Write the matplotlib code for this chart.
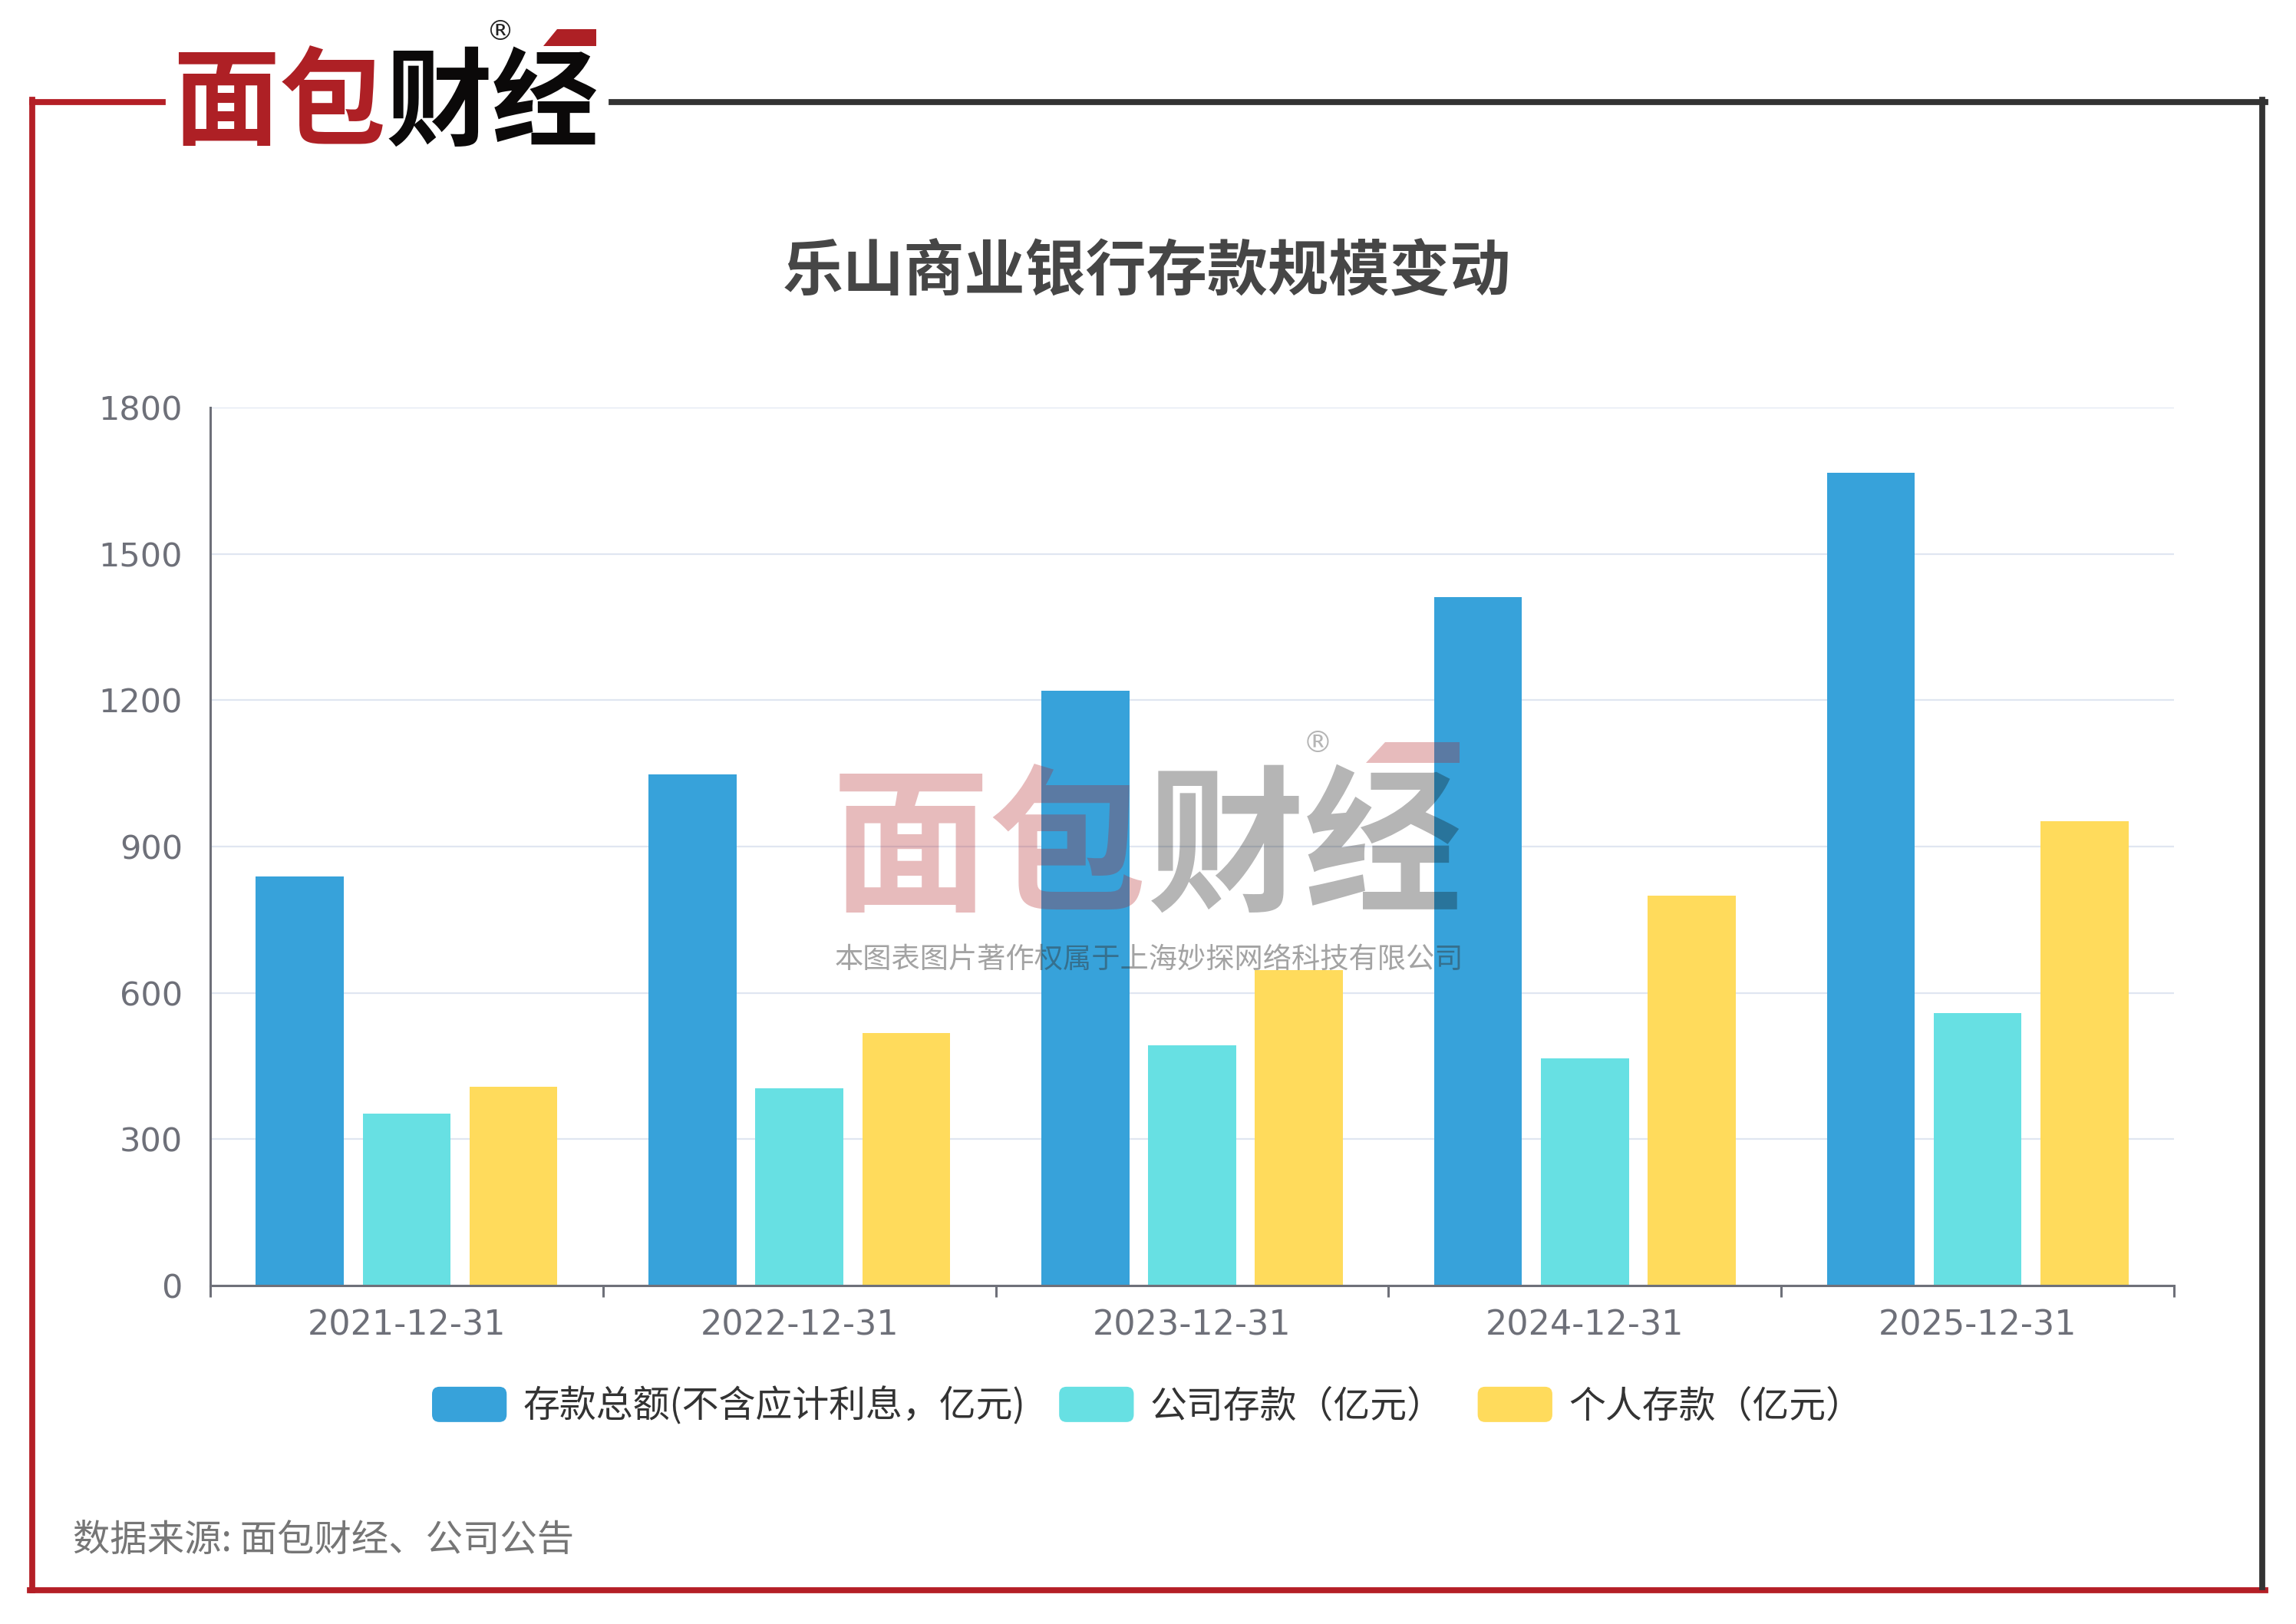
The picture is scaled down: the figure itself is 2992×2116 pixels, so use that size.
import matplotlib
matplotlib.use("Agg")
from matplotlib import pyplot as plt
from matplotlib.patches import FancyBboxPatch, Rectangle, Polygon
from matplotlib.legend_handler import HandlerPatch
from matplotlib.lines import Line2D
import numpy as np

plt.rcParams['font.family'] = ['Noto Sans CJK SC', 'DejaVu Sans']

dates = ["2021-12-31", "2022-12-31", "2023-12-31", "2024-12-31", "2025-12-31"]
total = [838, 1048, 1219, 1412, 1667]
corp = [353, 405, 492, 465, 559]
personal = [408, 518, 646, 799, 952]

labels = ["存款总额(不含应计利息，亿元)", "公司存款（亿元）", "个人存款（亿元）"]
colors = ["#37a2da", "#67e0e3", "#ffdb5c"]

W, H = 2992, 2116
fig = plt.figure(figsize=(W / 100, H / 100), dpi=100)
fig.patch.set_facecolor("white")


def fx(px):
    return px / W


def fy(py):
    return 1 - py / H


ax = fig.add_axes([fx(274), fy(1675), fx(2833) - fx(274), fy(531) - fy(1675)])

x = np.arange(len(dates))
bw = 0.224
off = 0.272
bars = []
for i, (vals, c) in enumerate(zip([total, corp, personal], colors)):
    b = ax.bar(x + (i - 1) * off, vals, bw, color=c, label=labels[i], zorder=2)
    bars.append(b)

ax.set_xlim(-0.5, len(dates) - 0.5)
ax.set_ylim(0, 1800)
ax.set_yticks(range(0, 1801, 300))
ax.yaxis.grid(True, color="#e0e6f1", linewidth=1.6, zorder=0)
ax.set_axisbelow(True)

axis_col = "#6e7079"
for s in ["top", "right"]:
    ax.spines[s].set_visible(False)
for s in ["left", "bottom"]:
    ax.spines[s].set_color(axis_col)
    ax.spines[s].set_linewidth(2.2)

ax.set_xticks(x)
ax.set_xticklabels(dates)
ax.set_xticks(np.arange(-0.5, len(dates)), minor=True)
ax.tick_params(axis="x", which="major", length=0, pad=22, labelsize=32, labelcolor=axis_col)
ax.tick_params(axis="x", which="minor", length=11, width=2.2, color=axis_col, direction="out")
ax.tick_params(axis="y", length=0, pad=26, labelsize=31, labelcolor=axis_col)
for lab in ax.get_xticklabels() + ax.get_yticklabels():
    lab.set_family("DejaVu Sans")

# title
fig.text(fx(1494), fy(355), "乐山商业银行存款规模变动", ha="center", va="center",
         fontsize=57, fontweight="bold", color="#464646")


# legend with rounded swatches
class RoundHandler(HandlerPatch):
    def create_artists(self, legend, orig_handle, xdescent, ydescent, width, height, fontsize, trans):
        p = FancyBboxPatch((-xdescent, -ydescent), width, height,
                           boxstyle="round,pad=0,rounding_size=7",
                           facecolor=orig_handle.get_facecolor(), edgecolor="none",
                           transform=trans)
        return [p]


handles = [b.patches[0] for b in bars]
leg = fig.legend(handles, labels, loc="center", bbox_to_anchor=(fx(1495), fy(1832)),
                 ncol=3, frameon=False, fontsize=34.5, handlelength=2.03, handleheight=1.1,
                 handletextpad=0.44, columnspacing=0.92, handler_map={Rectangle: RoundHandler()},
                 labelcolor="#333333")

# source note
fig.text(fx(95), fy(2007), "数据来源: 面包财经、公司公告", ha="left", va="center",
         fontsize=34.8, color="#767676")

# frame lines
lw = 5.6
fig.add_artist(Line2D([fx(42), fx(212)], [fy(133), fy(133)], color="#b41f26", lw=lw, transform=fig.transFigure))
fig.add_artist(Line2D([fx(42), fx(42)], [fy(130), fy(2072)], color="#b41f26", lw=lw, transform=fig.transFigure))
fig.add_artist(Line2D([fx(39), fx(2952)], [fy(2072), fy(2072)], color="#b41f26", lw=lw, transform=fig.transFigure))
fig.add_artist(Line2D([fx(797), fx(2952)], [fy(133), fy(133)], color="#333333", lw=lw, transform=fig.transFigure))
fig.add_artist(Line2D([fx(2948), fx(2948)], [fy(130), fy(2068)], color="#333333", lw=lw, transform=fig.transFigure))

# top-left logo
fig.text(fx(503), fy(138), "面包", ha="right", va="center", fontsize=100, fontweight="bold", color="#ae2025")
fig.text(fx(503), fy(138), "财经", ha="left", va="center", fontsize=100, fontweight="bold", color="#0b0909")
fig.text(fx(652), fy(42), "®", ha="center", va="center", fontsize=26, color="#222222", family="DejaVu Sans")
fig.add_artist(Polygon([[fx(708), fy(60)], [fx(726), fy(38)], [fx(777), fy(38)], [fx(777), fy(60)]],
                       closed=True, facecolor="#ae2025", edgecolor="none", transform=fig.transFigure))

# watermark
fig.text(fx(1495), fy(1111), "面包", ha="right", va="center", fontsize=148, fontweight="bold",
         color="#b01f24", alpha=0.3, zorder=5)
fig.text(fx(1495), fy(1111), "财经", ha="left", va="center", fontsize=148, fontweight="bold",
         color="#0a0a0a", alpha=0.3, zorder=5)
fig.text(fx(1717), fy(969), "®", ha="center", va="center", fontsize=28, color="#0a0a0a", alpha=0.3,
         family="DejaVu Sans", zorder=5)
fig.add_artist(Polygon([[fx(1780), fy(994)], [fx(1805), fy(967)], [fx(1902), fy(967)], [fx(1902), fy(994)]],
                       closed=True, facecolor="#b01f24", edgecolor="none", alpha=0.3,
                       transform=fig.transFigure, zorder=5))
fig.text(fx(1497), fy(1250), "本图表图片著作权属于上海妙探网络科技有限公司", ha="center", va="center",
         fontsize=26.8, color="#333333", alpha=0.45, zorder=5)

fig.savefig("out.png", dpi=100)
